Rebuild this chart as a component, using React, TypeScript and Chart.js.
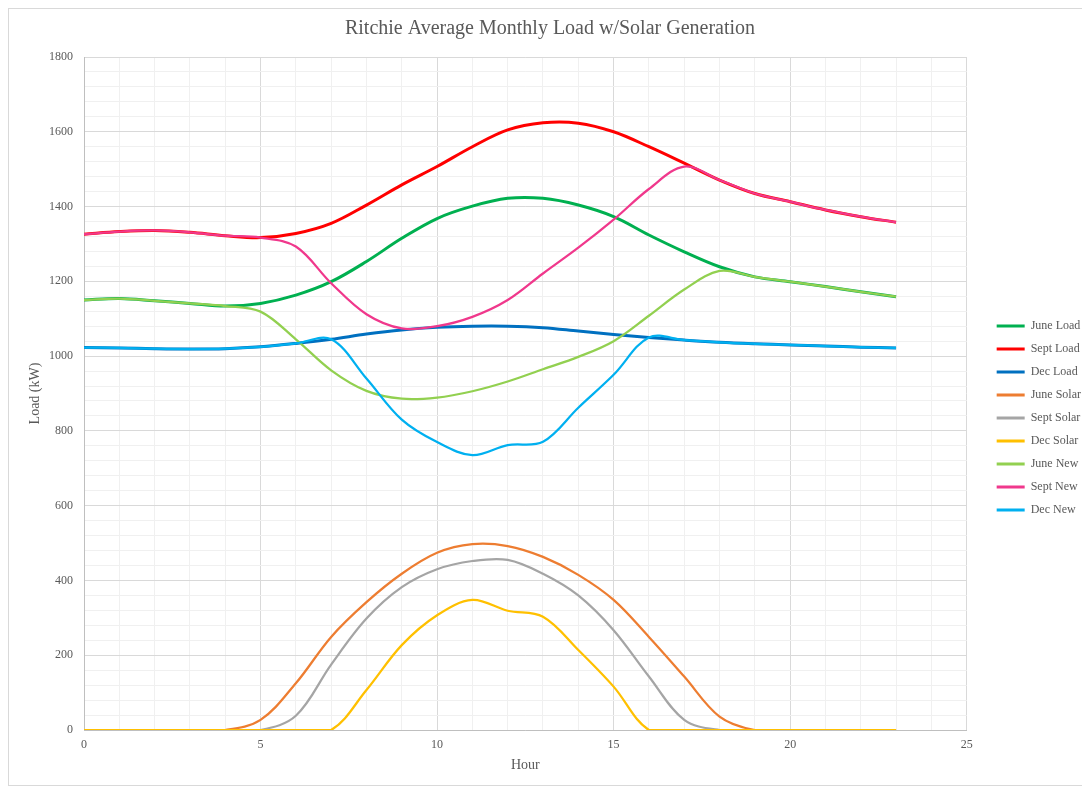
import React, { useEffect, useRef } from "react";
import { Chart, registerables } from "chart.js";

Chart.register(...registerables);

// Hour of day for every reading
const HOURS = [0, 1, 2, 3, 4, 5, 6, 7, 8, 9, 10, 11, 12, 13, 14, 15, 16, 17, 18, 19, 20, 21, 22, 23];

// Average load (kW)
const JUNE_LOAD = [1150, 1154, 1148, 1141, 1134, 1141, 1163, 1199, 1253, 1315, 1368, 1401, 1422, 1422, 1404, 1373, 1324, 1279, 1239, 1212, 1199, 1186, 1172, 1159];
const SEPT_LOAD = [1326, 1333, 1336, 1331, 1322, 1317, 1328, 1355, 1404, 1458, 1507, 1560, 1605, 1624, 1623, 1600, 1560, 1516, 1471, 1435, 1413, 1391, 1373, 1358];
const DEC_LOAD = [1023, 1022, 1020, 1019, 1020, 1025, 1034, 1045, 1059, 1070, 1077, 1080, 1080, 1076, 1067, 1058, 1050, 1043, 1037, 1033, 1030, 1027, 1024, 1022];

// Solar generation (kW)
const JUNE_SOLAR = [0, 0, 0, 0, 0, 27, 125, 249, 342, 418, 474, 497, 492, 463, 415, 348, 249, 143, 36, 0, 0, 0, 0, 0];
const SEPT_SOLAR = [0, 0, 0, 0, 0, 0, 38, 175, 298, 382, 430, 452, 455, 418, 360, 267, 143, 27, 0, 0, 0, 0, 0, 0];
const DEC_SOLAR = [0, 0, 0, 0, 0, 0, 0, 0, 107, 227, 307, 348, 319, 303, 214, 116, 0, 0, 0, 0, 0, 0, 0, 0];

// Net load after solar (kW)
const JUNE_NEW = [1150, 1154, 1148, 1141, 1134, 1119, 1045, 962, 907, 886, 889, 906, 932, 965, 998, 1040, 1108, 1178, 1228, 1212, 1199, 1186, 1172, 1159];
const SEPT_NEW = [1326, 1333, 1336, 1331, 1322, 1317, 1293, 1195, 1112, 1074, 1080, 1105, 1150, 1221, 1290, 1365, 1447, 1507, 1471, 1435, 1413, 1391, 1373, 1358];
const DEC_NEW = [1023, 1022, 1020, 1019, 1020, 1025, 1034, 1045, 940, 830, 770, 735, 762, 771, 862, 950, 1050, 1043, 1037, 1033, 1030, 1027, 1024, 1022];

const SERIES_LABELS = ["June Load", "Sept Load", "Dec Load", "June Solar", "Sept Solar", "Dec Solar", "June New", "Sept New", "Dec New"];
const SERIES_VALUES = [JUNE_LOAD, SEPT_LOAD, DEC_LOAD, JUNE_SOLAR, SEPT_SOLAR, DEC_SOLAR, JUNE_NEW, SEPT_NEW, DEC_NEW];
const SERIES_COLORS = ["#00b050", "#ff0000", "#0070c0", "#ed7d31", "#a5a5a5", "#ffc000", "#92d050", "#f0388c", "#00b0f0"];
const SERIES_WIDTHS = [3, 3, 3, 2.25, 2.25, 2.25, 2.25, 2.25, 2.25];

const TITLE = "Ritchie Average Monthly Load w/Solar Generation";
const X_TITLE = "Hour";
const Y_TITLE = "Load (kW)";

const SERIF = "'Liberation Serif', 'Times New Roman', serif";
const TEXT = "#595959";
const MAJOR_GRID = "#d9d9d9";
const MINOR_GRID = "#f0f0f0";

export default function App() {
  const canvasRef = useRef<HTMLCanvasElement>(null);

  useEffect(() => {
    const canvas = canvasRef.current;
    if (!canvas) return;

    const datasets = SERIES_LABELS.map((label, i) => ({
      label,
      data: HOURS.map((h, k) => ({ x: h, y: SERIES_VALUES[i][k] })),
      borderColor: SERIES_COLORS[i],
      backgroundColor: SERIES_COLORS[i],
      borderWidth: SERIES_WIDTHS[i],
      pointRadius: 0,
      pointHoverRadius: 0,
      tension: 0.35,
      fill: false,
      // later series are painted over earlier ones
      order: SERIES_LABELS.length - 1 - i,
    }));

    const chart = new Chart(canvas, {
      type: "line",
      data: { datasets },
      options: {
        animation: false,
        responsive: true,
        maintainAspectRatio: false,
        layout: { padding: { left: 0, right: -4, top: 0, bottom: 0 } },
        plugins: {
          title: {
            display: true,
            text: TITLE,
            color: TEXT,
            font: { family: SERIF, size: 20, weight: "normal" },
            padding: { top: 8, bottom: 16 },
          },
          legend: {
            position: "right",
            // blank heading keeps the entries a little below the middle
            title: {
              display: true,
              text: "",
              font: { family: SERIF, size: 10 },
              padding: { top: 30, bottom: 0 },
            },
            labels: {
              color: TEXT,
              font: { family: SERIF, size: 12 },
              usePointStyle: true,
              pointStyle: "line",
              pointStyleWidth: 28,
              padding: 11,
              sort: (a: any, b: any) => a.datasetIndex - b.datasetIndex,
              generateLabels: (c: any) =>
                Chart.defaults.plugins.legend.labels
                  .generateLabels(c)
                  .map((item: any) => ({ ...item, lineWidth: 3 })),
            },
          },
          tooltip: { enabled: false },
        },
        scales: {
          x: {
            type: "linear",
            min: 0,
            max: 25,
            ticks: {
              stepSize: 1,
              autoSkip: false,
              maxRotation: 0,
              padding: 8,
              color: TEXT,
              font: { family: SERIF, size: 12 },
              callback: (v: any) => (Number(v) % 5 === 0 ? String(v) : ""),
            },
            grid: {
              drawTicks: false,
              color: (ctx: any) => (ctx.tick && ctx.tick.value % 5 === 0 ? MAJOR_GRID : MINOR_GRID),
            },
            border: { color: "#bfbfbf" },
            title: {
              display: true,
              text: X_TITLE,
              color: TEXT,
              font: { family: SERIF, size: 14 },
              padding: { top: 0, bottom: 11 },
            },
            afterFit: (s: any) => {
              s.height = 55;
            },
          },
          y: {
            type: "linear",
            min: 0,
            max: 1800,
            ticks: {
              stepSize: 40,
              autoSkip: false,
              padding: 11,
              color: TEXT,
              font: { family: SERIF, size: 12 },
              callback: (v: any) => (Number(v) % 200 === 0 ? String(v) : ""),
            },
            grid: {
              drawTicks: false,
              color: (ctx: any) => (ctx.tick && ctx.tick.value % 200 === 0 ? MAJOR_GRID : MINOR_GRID),
            },
            border: { color: "#bfbfbf" },
            title: {
              display: true,
              text: Y_TITLE,
              color: TEXT,
              font: { family: SERIF, size: 14 },
              padding: { top: 18, bottom: 0 },
            },
            afterFit: (s: any) => {
              s.width = 75;
            },
          },
          // empty gutter between the plot and the legend
          gutter: {
            type: "linear",
            position: "right",
            display: true,
            grid: { display: false },
            ticks: { display: false },
            border: { display: false },
            afterFit: (s: any) => {
              s.width = 19;
            },
          },
        },
      },
    } as any);

    return () => chart.destroy();
  }, []);

  return (
    <div
      style={{
        position: "relative",
        width: 1078,
        height: 776,
        border: "1px solid #d9d9d9",
        borderRight: "none",
        background: "#ffffff",
      }}
    >
      <canvas ref={canvasRef} />
    </div>
  );
}
